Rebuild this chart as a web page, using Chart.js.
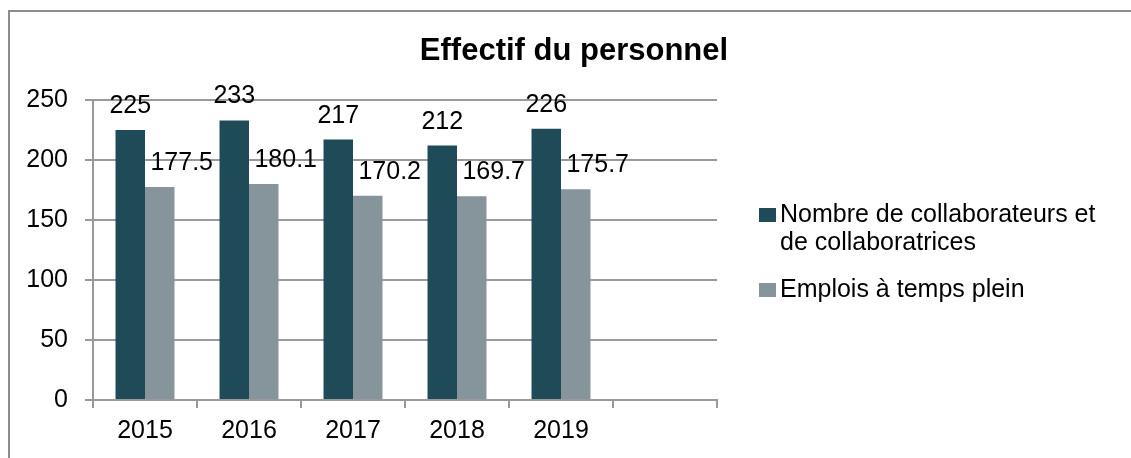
<!DOCTYPE html>
<html>
<head>
  <title>Effectif du personnel</title>
  <script src="https://cdn.jsdelivr.net/npm/chart.js"></script>
  <style>
    body { margin: 0; background: #fff; }
    #wrap { position: relative; width: 1131px; height: 458px; overflow: hidden; }
    #frame { position: absolute; left: 8px; top: 10px; right: -4px; bottom: -4px;
             border-left: 2px solid #8c8c8c; border-top: 2px solid #8c8c8c; }
    #chart { position: absolute; left: 0; top: 0; }
  </style>
</head>
<body>
<div id="wrap">
  <div id="frame"></div>
  <canvas id="chart" width="1131" height="458"></canvas>
</div>

<script>
  const chartTitle = 'Effectif du personnel';
  const years = ['2015', '2016', '2017', '2018', '2019', ''];
  const collaborateurs = [225, 233, 217, 212, 226, null];
  const emploisPlein = [177.5, 180.1, 170.2, 169.7, 175.7, null];
  const seriesNames = [
    ['Nombre de collaborateurs et', 'de collaboratrices'],
    ['Emplois à temps plein']
  ];
  const seriesColors = ['#1f4b58', '#85959b'];
  const yTicks = { min: 0, max: 250, step: 50 };

  const fontFamily = "'Liberation Sans', Arial, sans-serif";
  const gridColor = '#9a9a9a';

  // Étiquettes de valeurs au-dessus des barres
  const valueLabels = {
    id: 'valueLabels',
    afterDatasetsDraw(chart) {
      const ctx = chart.ctx;
      const shifts = [0, 22];
      ctx.save();
      ctx.font = '25px ' + fontFamily;
      ctx.fillStyle = '#000';
      ctx.textAlign = 'center';
      ctx.textBaseline = 'alphabetic';
      chart.data.datasets.forEach((ds, i) => {
        chart.getDatasetMeta(i).data.forEach((bar, j) => {
          const v = ds.data[j];
          if (v === null) return;
          ctx.fillText(String(v), bar.x + shifts[i], bar.y - 17);
        });
      });
      ctx.restore();
    }
  };

  // Titre et légende dessinés à la main
  const titleAndLegend = {
    id: 'titleAndLegend',
    afterDraw(chart) {
      const ctx = chart.ctx;
      const area = chart.chartArea;
      ctx.save();
      ctx.fillStyle = '#000';
      ctx.font = 'bold 31px ' + fontFamily;
      ctx.textAlign = 'center';
      ctx.textBaseline = 'alphabetic';
      ctx.fillText(chartTitle, 574, 60);

      ctx.font = '25px ' + fontFamily;
      ctx.textAlign = 'left';
      ctx.textBaseline = 'middle';
      const boxX = area.right + 42;
      let y = 215;
      chart.data.datasets.forEach((ds, i) => {
        ctx.fillStyle = ds.backgroundColor;
        ctx.fillRect(boxX, y - 7, 17, 14);
        ctx.fillStyle = '#000';
        seriesNames[i].forEach((line, k) => {
          ctx.fillText(line, boxX + 21, y + k * 28);
        });
        y += seriesNames[i].length * 28 + 19;
      });
      ctx.restore();
    }
  };

  new Chart(document.getElementById('chart').getContext('2d'), {
    type: 'bar',
    data: {
      labels: years,
      datasets: [
        {
          label: seriesNames[0].join(' '),
          data: collaborateurs,
          backgroundColor: seriesColors[0],
          categoryPercentage: 0.567,
          barPercentage: 1
        },
        {
          label: seriesNames[1].join(' '),
          data: emploisPlein,
          backgroundColor: seriesColors[1],
          categoryPercentage: 0.567,
          barPercentage: 1
        }
      ]
    },
    options: {
      responsive: false,
      animation: false,
      layout: { padding: { left: 0, top: 100, right: 414, bottom: 0 } },
      plugins: {
        legend: { display: false },
        title: { display: false },
        tooltip: { enabled: false }
      },
      scales: {
        x: {
          grid: { drawOnChartArea: false, color: gridColor, lineWidth: 2, tickLength: 8 },
          border: { color: gridColor, width: 2 },
          ticks: { color: '#000', font: { family: fontFamily, size: 25 }, padding: 8, maxRotation: 0 },
          afterFit(scale) { scale.height = 58; }
        },
        y: {
          min: yTicks.min,
          max: yTicks.max,
          grid: { color: gridColor, lineWidth: 2, tickLength: 8 },
          border: { color: gridColor, width: 2 },
          ticks: { stepSize: yTicks.step, color: '#000', font: { family: fontFamily, size: 25 }, padding: 17 },
          afterFit(scale) { scale.width = 93; }
        }
      }
    },
    plugins: [valueLabels, titleAndLegend]
  });
</script>
</body>
</html>
